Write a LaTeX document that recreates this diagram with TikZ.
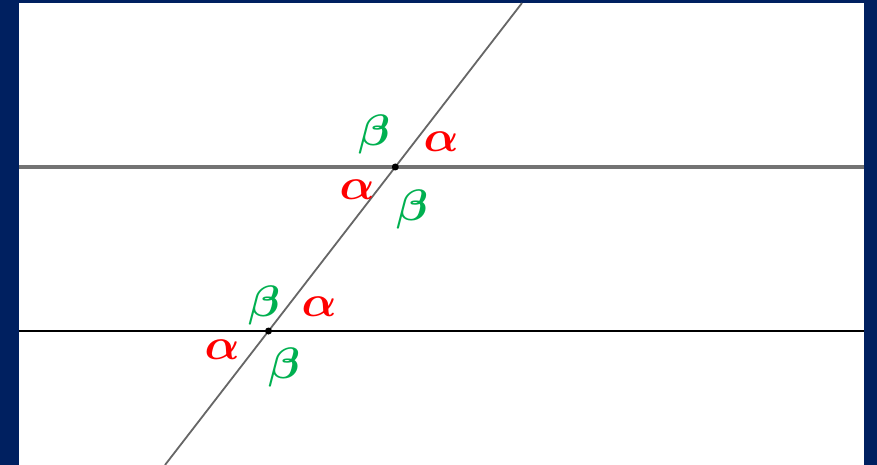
\documentclass[tikz,border=0pt]{standalone}
\usepackage{graphicx}
\definecolor{navy}{RGB}{0,32,96}
\definecolor{gr}{RGB}{0,176,80}
\definecolor{rd}{RGB}{255,0,0}
\newcommand{\biglbl}[1]{\scalebox{4.6}[4.4]{\boldmath$#1$}}
\begin{document}
\begin{tikzpicture}[x=1pt,y=-1pt,
  lbl/.style={inner sep=0pt},
  al/.style={lbl,text=rd},
  be/.style={lbl,text=gr},
  dot/.style={circle,fill=black,inner sep=0pt,minimum size=7pt}]
\fill[navy] (0,0) rectangle (877,465);
\fill[white] (19,3) rectangle (864,465);
\useasboundingbox (0,0) rectangle (877,465);
\coordinate (uL) at (19,167);
\coordinate (uR) at (864,167);
\coordinate (lL) at (19,331);
\coordinate (lR) at (864,331);
\coordinate (tB) at (165,465);
\coordinate (tT) at (522,3);
\draw[line width=3.2pt,color=black!55] (uL) -- (uR);
\draw[line width=1.8pt,color=black] (lL) -- (lR);
\draw[line width=1.8pt,color=black!60] (tB) -- (tT);
\node[dot] (P) at (395.3,167) {};
\node[dot] (Q) at (268.5,331) {};
\node[be] (b1) at (374,135) {\biglbl{\beta}};
\node[al] (a1) at (441,142) {\biglbl{\alpha}};
\node[al] (a2) at (357,190) {\biglbl{\alpha}};
\node[be] (b2) at (412,209) {\biglbl{\beta}};
\node[be] (b3) at (264,305) {\biglbl{\beta}};
\node[al] (a3) at (319,307) {\biglbl{\alpha}};
\node[al] (a4) at (222,350) {\biglbl{\alpha}};
\node[be] (b4) at (284,367) {\biglbl{\beta}};
\end{tikzpicture}
\end{document}
